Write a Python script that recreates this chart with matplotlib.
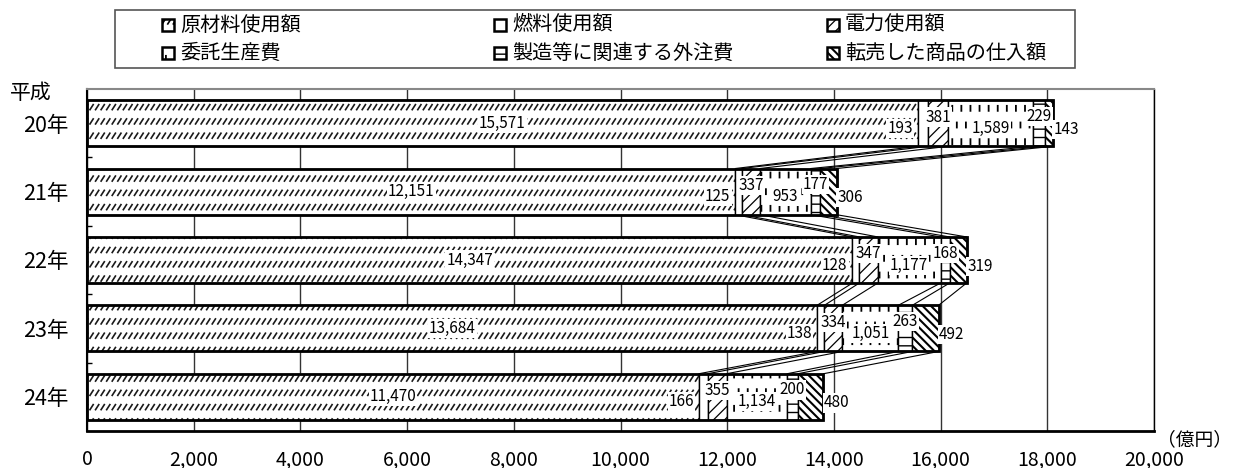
import warnings
import numpy as np
import matplotlib
matplotlib.use('Agg')
import matplotlib.pyplot as plt
import matplotlib.hatch as mhatch
from matplotlib.path import Path
from matplotlib.patches import Rectangle
from matplotlib.ticker import FuncFormatter

warnings.filterwarnings('ignore')

plt.rcParams['font.family'] = ['Noto Sans CJK JP', 'DejaVu Sans']
plt.rcParams['hatch.linewidth'] = 1.0

# data (億円)
years = ['20年', '21年', '22年', '23年', '24年']
names = ['原材料使用額', '燃料使用額', '電力使用額',
         '委託生産費', '製造等に関連する外注費', '転売した商品の仕入額']
raw = [15571, 12151, 14347, 13684, 11470]
fuel = [193, 125, 128, 138, 166]
power = [381, 337, 347, 334, 355]
consign = [1589, 953, 1177, 1051, 1134]
outsource = [229, 177, 168, 263, 200]
resale = [143, 306, 319, 492, 480]
xticks = list(range(0, 20001, 2000))


# custom hatches: rows of short slanted dashes ('r'), staggered vertical dashes ('v')
class DashRows(mhatch.HatchPatternBase):
    def __init__(self, hatch, density):
        n = hatch.count('r')
        self.rows, self.cols = 7 * n, 18 * n
        self.num_vertices = 2 * self.rows * self.cols

    def set_vertices_and_codes(self, vertices, codes):
        k = 0
        for i in range(self.rows):
            yy = (i + 0.5) / self.rows
            for j in range(self.cols):
                xx = (j + 0.2) / self.cols
                vertices[k] = (xx, yy - 0.025)
                vertices[k + 1] = (xx + 0.032, yy + 0.025)
                codes[k] = Path.MOVETO
                codes[k + 1] = Path.LINETO
                k += 2


class VDashes(mhatch.HatchPatternBase):
    def __init__(self, hatch, density):
        n = hatch.count('v')
        self.rows, self.cols = 6 * n, 11 * n
        self.num_vertices = 2 * self.rows * self.cols

    def set_vertices_and_codes(self, vertices, codes):
        k = 0
        for i in range(self.rows):
            yy = (i + 0.5) / self.rows
            shift = 0.5 if i % 2 else 0.0
            for j in range(self.cols):
                xx = (j + 0.25 + shift) / self.cols
                vertices[k] = (xx, yy - 0.025)
                vertices[k + 1] = (xx, yy + 0.025)
                codes[k] = Path.MOVETO
                codes[k + 1] = Path.LINETO
                k += 2


mhatch._hatch_types.append(DashRows)
mhatch._hatch_types.append(VDashes)

W, H = 1234, 468
fig = plt.figure(figsize=(W / 100, H / 100), dpi=100)
ax = fig.add_axes([87 / W, 1 - 431 / H, (1154 - 87) / W, (431 - 89) / H])

series = [raw, fuel, power, consign, outsource, resale]
hatches = ['r', None, '///', 'v', '--', '\\\\\\\\']
hatch_lw = [1.2, 1.0, 0.9, 1.3, 1.0, 1.5]
edges = ['#1a1a1a', 'black', 'black', 'black', 'black', 'black']


def set_hlw(patch, lw):
    if hasattr(patch, 'set_hatch_linewidth'):
        patch.set_hatch_linewidth(lw)


y = np.arange(len(years))
h = 0.675
left = np.zeros(len(years))
ends = []
starts = []
for vals, hat, ec, hl in zip(series, hatches, edges, hatch_lw):
    vals = np.array(vals, dtype=float)
    bars = ax.barh(y, vals, left=left, height=h, color='white', edgecolor=ec,
                   hatch=hat, lw=1.0, zorder=2)
    for b in bars:
        set_hlw(b, hl)
    starts.append(left.copy())
    left = left + vals
    ends.append(left.copy())
totals = left

# thick outline round each bar
ax.barh(y, totals, height=h, fill=False, edgecolor='black', lw=2.0, zorder=3)

# series lines between bars
for i in range(len(years) - 1):
    for e in ends:
        ax.plot([e[i], e[i + 1]], [y[i] + h / 2, y[i + 1] - h / 2],
                color='black', lw=0.8, zorder=1.5)

# data labels
box = dict(facecolor='white', edgecolor='none', pad=0.8)
for i in range(len(years)):
    lab = lambda x, yy, v, ha='center': ax.text(
        x, y[i] + yy, f'{v:,}', ha=ha, va='center', fontsize=11,
        bbox=box, zorder=5)
    lab((starts[0][i] + ends[0][i]) / 2, 0, raw[i])
    lab(ends[0][i] - 90, 0.075, fuel[i], ha='right')
    lab((starts[2][i] + ends[2][i]) / 2, -0.09, power[i])
    lab((starts[3][i] + ends[3][i]) / 2, 0.075, consign[i])
    lab((starts[4][i] + ends[4][i]) / 2, -0.1, outsource[i])
    lab(totals[i] + 250, 0.09, resale[i])

ax.set_xlim(0, 20000)
ax.set_ylim(len(years) - 0.5, -0.5)
ax.set_xticks(xticks)
ax.xaxis.set_major_formatter(FuncFormatter(lambda v, p: f'{int(v):,}'))
ax.tick_params(axis='x', length=0, pad=13, labelsize=14)
ax.set_yticks(y)
ax.set_yticklabels(years)
ax.tick_params(axis='y', which='major', length=0, pad=13, labelsize=15.5)
ax.set_yticks(y[:-1] + 0.5, minor=True)
ax.tick_params(axis='y', which='minor', direction='in', length=3.5, width=1)
ax.grid(axis='x', color='#333333', lw=1.0, zorder=0)
ax.set_axisbelow(True)
ax.spines['top'].set_color('#888888')
ax.spines['top'].set_linewidth(1.5)
ax.spines['left'].set_linewidth(1.5)
ax.spines['bottom'].set_linewidth(2.0)
ax.spines['right'].set_linewidth(1.0)

fig.text(31 / W, 1 - 93 / H, '平成', ha='center', va='center', fontsize=15)
fig.text(1194 / W, 1 - 440 / H, '（億円）', ha='center', va='center', fontsize=13.5)

# legend drawn by hand: 3 columns, 2 rows
fig.add_artist(Rectangle((115 / W, 1 - 68 / H), (1075 - 115) / W, 58 / H,
                         transform=fig.transFigure, facecolor='white',
                         edgecolor='#555555', lw=1.2))
col_x = [162, 494, 827]
row_y = [25, 53]
order = [0, 3, 1, 4, 2, 5]
for pos, s in enumerate(order):
    cx = col_x[pos // 2]
    cy = row_y[pos % 2]
    mk = Rectangle((cx / W, 1 - (cy + 6) / H), 12 / W, 12 / H,
                   transform=fig.transFigure, facecolor='white',
                   edgecolor='black', lw=1.8, hatch=hatches[s])
    set_hlw(mk, hatch_lw[s])
    fig.add_artist(mk)
    fig.text((cx + 18) / W, 1 - cy / H, names[s], ha='left', va='center',
             fontsize=14.5)

fig.savefig('out.png', dpi=100)
